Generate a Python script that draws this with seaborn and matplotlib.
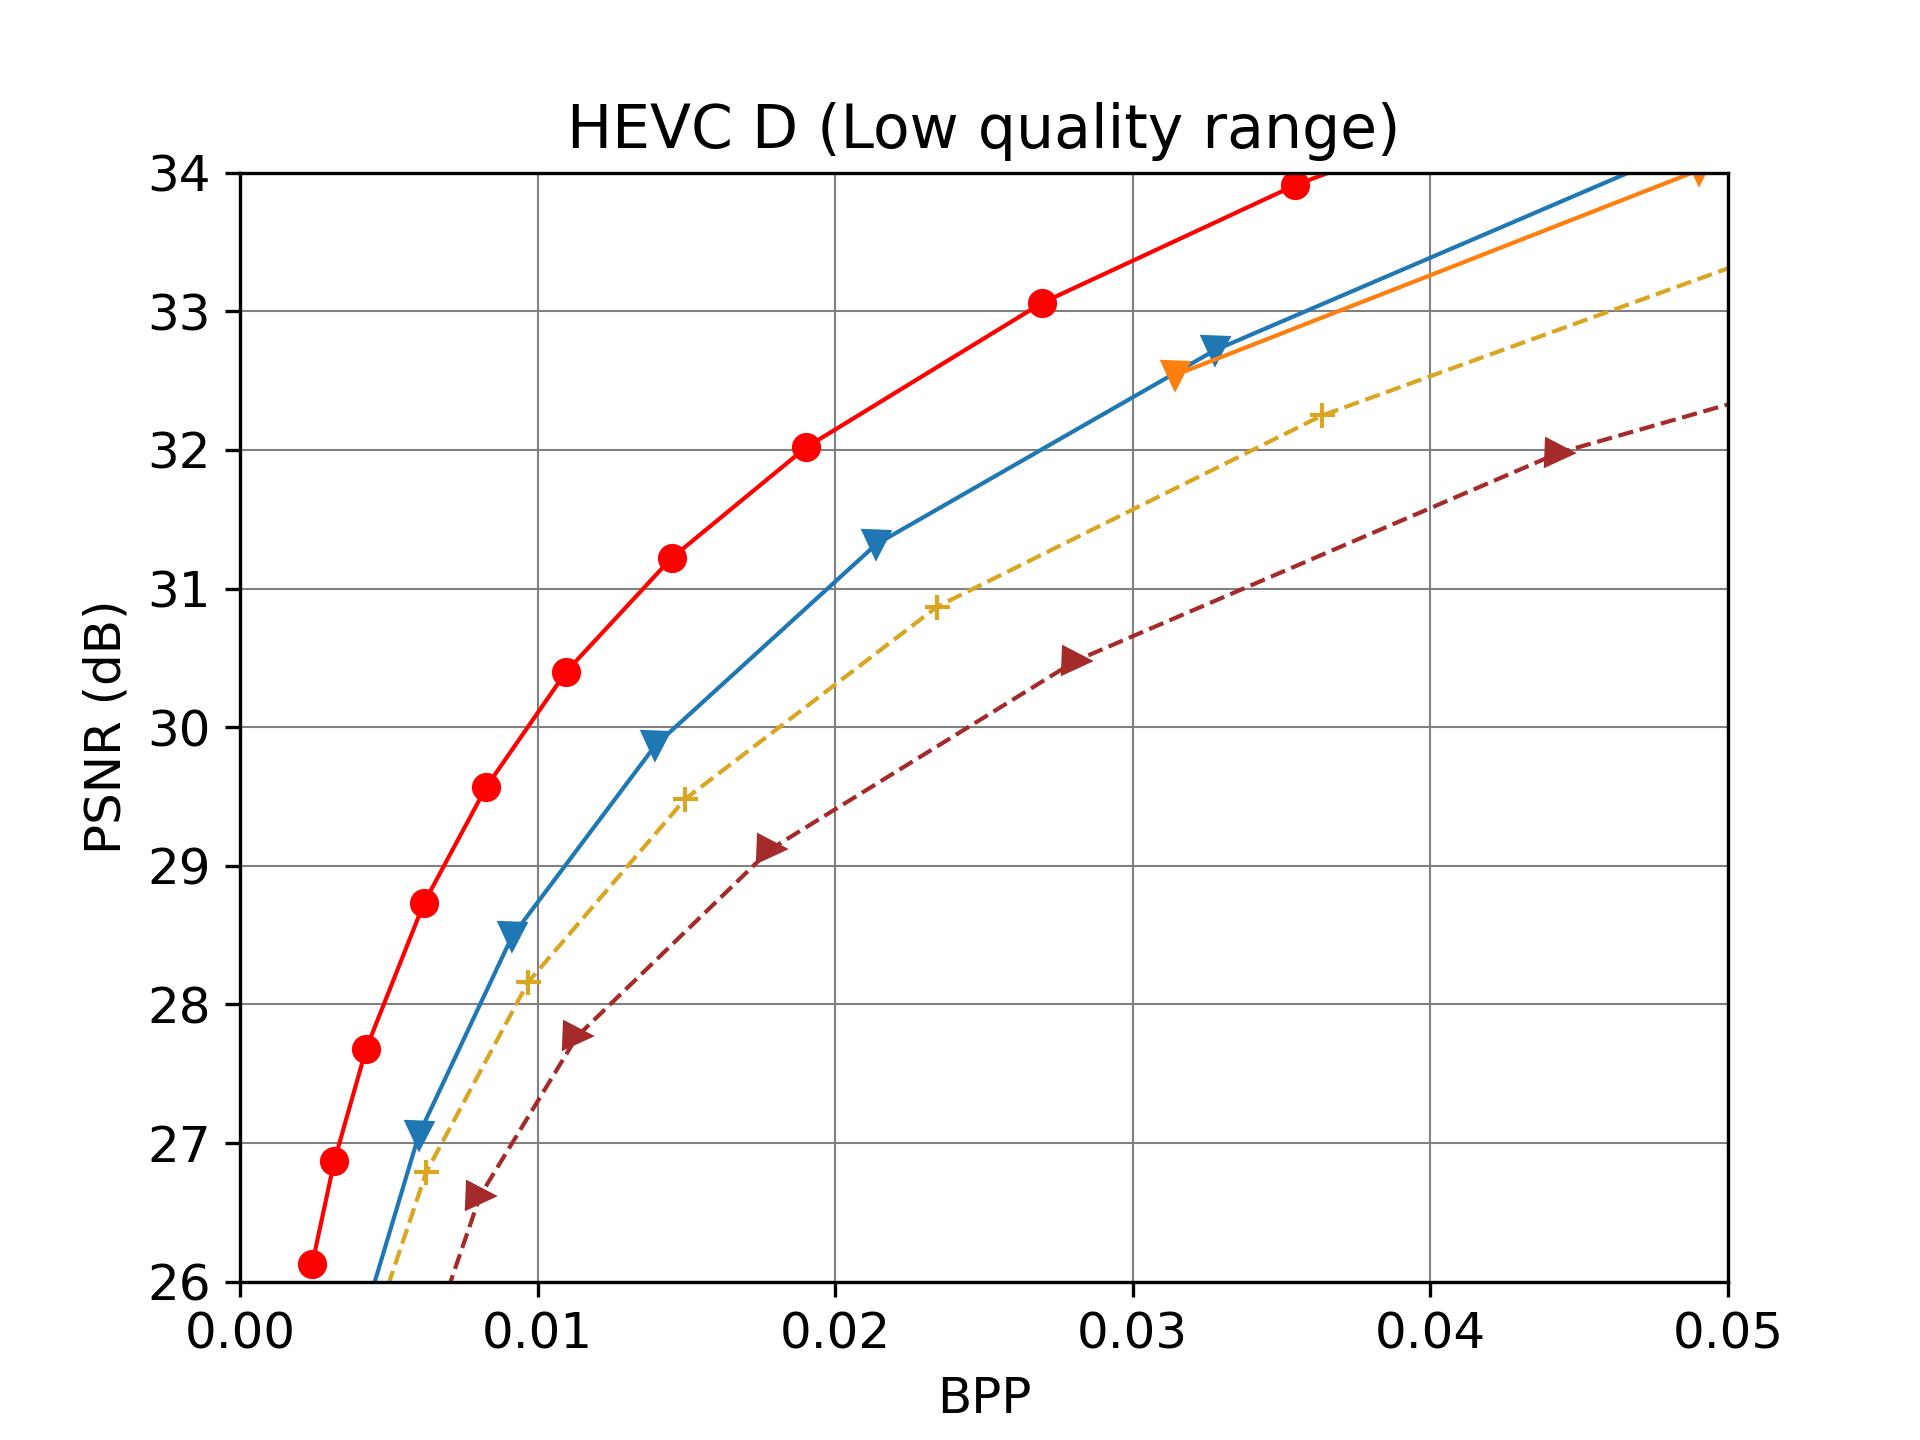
import numpy as np
import pandas as pd
import matplotlib
matplotlib.use("Agg")
import matplotlib.pyplot as plt
import seaborn as sns

# rate-distortion points (bpp, psnr)
red_bpp = [0.00243, 0.00317, 0.00424, 0.00618, 0.00828, 0.01096, 0.0145, 0.01903, 0.02694, 0.03545, 0.0450]
red_psnr = [26.13, 26.87, 27.68, 28.73, 29.57, 30.40, 31.22, 32.02, 33.06, 33.91, 34.68]

blue_bpp = [0.0040, 0.00601, 0.00914, 0.01396, 0.02138, 0.03276, 0.0525]
blue_psnr = [25.62, 27.06, 28.49, 29.87, 31.32, 32.72, 34.54]

orange_bpp = [0.03142, 0.04903]
orange_psnr = [32.54, 34.02]

gold_bpp = [0.0045, 0.00626, 0.00968, 0.01495, 0.02343, 0.03637, 0.0550]
gold_psnr = [25.67, 26.79, 28.16, 29.48, 30.87, 32.25, 33.70]

brown_bpp = [0.0065, 0.00807, 0.01133, 0.01783, 0.02809, 0.04432, 0.0580]
brown_psnr = [25.64, 26.62, 27.77, 29.12, 30.48, 31.98, 32.82]

plt.rcParams['font.size'] = 12

fig, ax = plt.subplots(figsize=(6.4, 4.8), dpi=300)

lw = 1.0
sns.lineplot(x=red_bpp, y=red_psnr, sort=False, color='red', marker='o',
             markeredgecolor='red', markeredgewidth=1, markersize=6, linewidth=lw, ax=ax)
sns.lineplot(x=blue_bpp, y=blue_psnr, sort=False, color='tab:blue', marker='v',
             markeredgecolor='tab:blue', markeredgewidth=1, markersize=6, linewidth=lw, ax=ax)
sns.lineplot(x=orange_bpp, y=orange_psnr, sort=False, color='tab:orange', marker='v',
             markeredgecolor='tab:orange', markeredgewidth=1, markersize=6, linewidth=lw, ax=ax)
sns.lineplot(x=gold_bpp, y=gold_psnr, sort=False, color='goldenrod', marker='+',
             markeredgecolor='goldenrod', markeredgewidth=1, markersize=6, linewidth=lw,
             linestyle='--', ax=ax)
sns.lineplot(x=brown_bpp, y=brown_psnr, sort=False, color='brown', marker='>',
             markeredgecolor='brown', markeredgewidth=1, markersize=6, linewidth=lw,
             linestyle='--', ax=ax)

ax.set_xlim(0, 0.05)
ax.set_ylim(26, 34)
ax.set_xticks([0.0, 0.01, 0.02, 0.03, 0.04, 0.05])
ax.set_xticklabels(['0.00', '0.01', '0.02', '0.03', '0.04', '0.05'])
ax.set_yticks(range(26, 35))
ax.grid(True, color='gray', linewidth=0.5)
ax.set_title('HEVC D (Low quality range)')
ax.set_xlabel('BPP')
ax.set_ylabel('PSNR (dB)')

plt.savefig('out.png', dpi=300)
